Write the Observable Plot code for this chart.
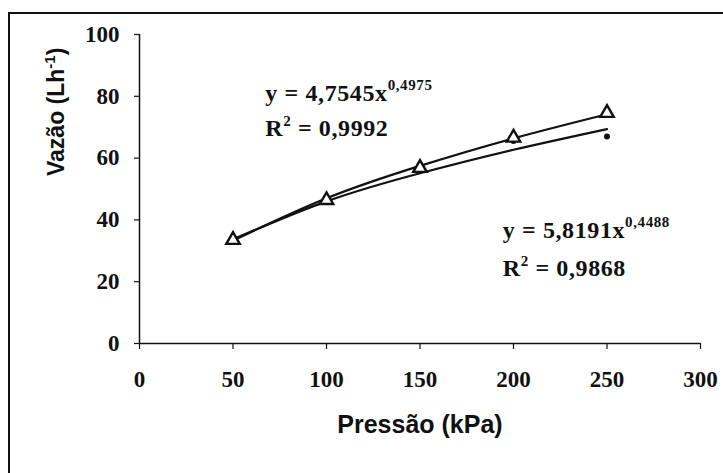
<!DOCTYPE html>
<html>
<head>
<meta charset="utf-8">
<script src="https://cdn.jsdelivr.net/npm/d3@7"></script>
<script src="https://cdn.jsdelivr.net/npm/@observablehq/plot@0.6"></script>
<style>
  html, body { margin: 0; padding: 0; background: #fff; overflow: hidden; }
  #wrap { position: relative; width: 723px; height: 473px; overflow: hidden; background: #fff; }
  #wrap svg { display: block; }
  .edgeTop { position: absolute; left: 8px; top: 12px; width: 715px; height: 2px; background: #111; }
  .edgeLeft { position: absolute; left: 8px; top: 12px; width: 2px; height: 461px; background: #111; }
</style>
</head>
<body>
<div id="wrap"><div class="edgeTop"></div><div class="edgeLeft"></div></div>
<script>
// Pressure (kPa) and flow (L h-1)
const pressao = [50, 100, 150, 200, 250];
const vazaoTriangulo = [33.5, 46.4, 56.8, 66.6, 74.6];
const vazaoPonto = [33.6, 46.6, 55.9, 65.5, 67.0];
// trend curves as drawn on the picture at the same pressures
const tendencia1 = [33.3, 47.0, 57.5, 66.4, 74.2];
const tendencia2 = [33.7, 46.0, 55.1, 62.7, 69.4];
const xTicks = [0, 50, 100, 150, 200, 250, 300];
const yTicks = [0, 20, 40, 60, 80, 100];
const eq1 = { main: "y = 4,7545x", sup: "0,4975", r2: "0,9992" };
const eq2 = { main: "y = 5,8191x", sup: "0,4488", r2: "0,9868" };

const tri = pressao.map((x, i) => ({x, y: vazaoTriangulo[i]}));
const dot = pressao.map((x, i) => ({x, y: vazaoPonto[i]}));
const t1 = pressao.map((x, i) => ({x, y: tendencia1[i]}));
const t2 = pressao.map((x, i) => ({x, y: tendencia2[i]}));

const serif = "'Liberation Serif', 'Times New Roman', serif";
const sans = "'Liberation Sans', Arial, sans-serif";

const chart = Plot.plot({
  width: 723, height: 473,
  marginLeft: 139, marginRight: 23, marginTop: 34, marginBottom: 130,
  style: { fontFamily: serif, fontSize: "23px", fontWeight: "bold", color: "#111", background: "transparent" },
  x: { domain: [0, 300] },
  y: { domain: [0, 100] },
  marks: [
    Plot.ruleY([0], { x1: 0, x2: 300, stroke: "#111", strokeWidth: 1.5 }),
    Plot.ruleX([0], { y1: 0, y2: 100, stroke: "#111", strokeWidth: 1.5 }),
    Plot.axisX({ ticks: xTicks, tickSize: 6, tickPadding: 21, label: null, stroke: "#111", strokeWidth: 1.2, tickFormat: d => String(d) }),
    Plot.axisY({ ticks: yTicks, tickSize: 5, tickPadding: 15, label: null, stroke: "#111", strokeWidth: 1.2, tickFormat: d => String(d) }),
    Plot.line(t1, { x: "x", y: "y", curve: "natural", stroke: "#111", strokeWidth: 2.2 }),
    Plot.line(t2, { x: "x", y: "y", curve: "natural", stroke: "#111", strokeWidth: 2.2 }),
    Plot.dot(dot, { x: "x", y: "y", r: 3, fill: "#111", stroke: "none" }),
    Plot.dot(tri, { x: "x", y: "y", r: 5, symbol: "triangle", fill: "white", stroke: "#111", strokeWidth: 2.4 }),
    Plot.text([eq1.main], { x: 67.3, y: 78.6, text: d => d, textAnchor: "start", lineAnchor: "bottom", fontSize: 24, fill: "#111" }),
    Plot.text(["R2 = " + eq1.r2], { x: 67.3, y: 67.3, text: d => d, textAnchor: "start", lineAnchor: "bottom", fontSize: 24, fill: "#111" }),
    Plot.text([eq2.main], { x: 194.3, y: 34.3, text: d => d, textAnchor: "start", lineAnchor: "bottom", fontSize: 24, fill: "#111" }),
    Plot.text(["R2 = " + eq2.r2], { x: 194.3, y: 22.0, text: d => d, textAnchor: "start", lineAnchor: "bottom", fontSize: 24, fill: "#111" }),
    Plot.text(["Pressão (kPa)"], { frameAnchor: "bottom", text: d => d, lineAnchor: "bottom", dy: 89, fontFamily: sans, fontSize: 25, fill: "#111" }),
    Plot.text(["Vazão (Lh"], { frameAnchor: "left", text: d => d, rotate: -90, lineAnchor: "bottom", dx: -76, dy: -13, fontFamily: sans, fontSize: 23, fill: "#111" })
  ]
});

document.getElementById("wrap").prepend(chart);

// superscripts
const svg = d3.select(chart);
function rebuild(match, parts, spacing) {
  svg.selectAll("text").filter(function () { return this.textContent === match; }).each(function () {
    const t = d3.select(this);
    t.text(null);
    parts.forEach(p => {
      const s = t.append("tspan").text(p.t);
      if (p.dy) s.attr("dy", p.dy);
      if (p.fs) s.attr("font-size", p.fs);
    });
    if (spacing) t.style("letter-spacing", spacing);
  });
}
[eq1, eq2].forEach(e => {
  rebuild(e.main, [{t: e.main}, {t: e.sup, dy: -11, fs: 15}], "0.6px");
  rebuild("R2 = " + e.r2, [{t: "R"}, {t: "2", dy: -10, fs: 15}, {t: " = " + e.r2, dy: 10}], "0.6px");
});
rebuild("Vazão (Lh", [{t: "Vazão (Lh"}, {t: "-1", dy: -9, fs: 15}, {t: ")", dy: 9}]);
</script>
</body>
</html>
